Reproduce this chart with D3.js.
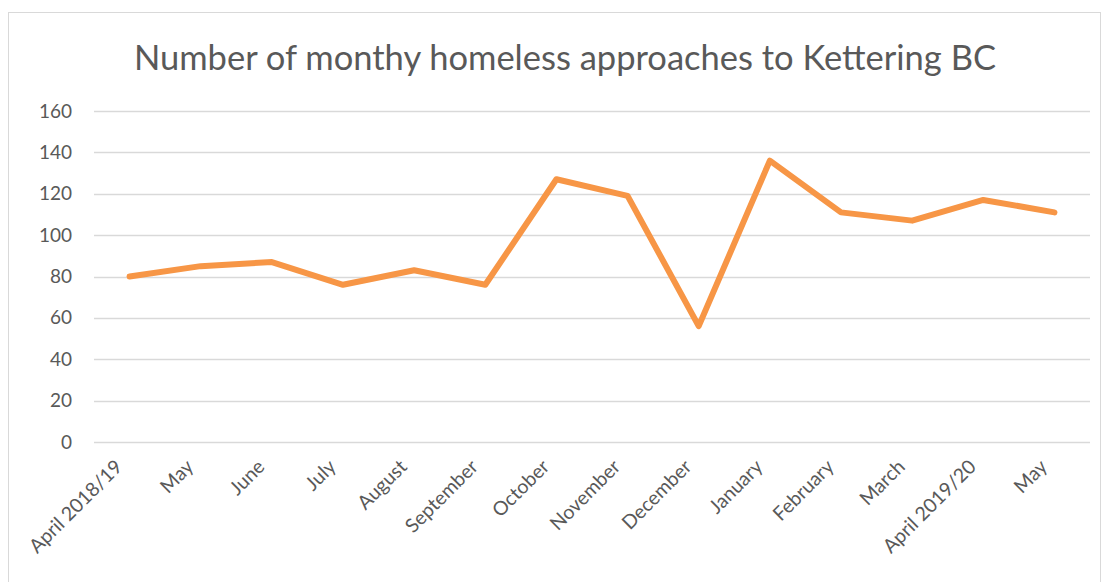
<!DOCTYPE html>
<html>
<head>
<meta charset="utf-8">
<script src="https://cdn.jsdelivr.net/npm/d3@7"></script>
<style>
  body { margin: 0; background: #fff; }
  svg { display: block; font-family: Lato, "Open Sans", sans-serif; }
</style>
</head>
<body>
<div id="chart"></div>
<script>
const months = ['April 2018/19', 'May', 'June', 'July', 'August', 'September', 'October',
  'November', 'December', 'January', 'February', 'March', 'April 2019/20', 'May '];
const approaches = [80, 85, 87, 76, 83, 76, 127, 119, 56, 136, 111, 107, 117, 111];
const yTicks = [0, 20, 40, 60, 80, 100, 120, 140, 160];

const W = 1105, H = 582;
const space = { top: 111, right: 15, bottom: 140, left: 94 };
const w = W - space.left - space.right,
  h = 442 - space.top;

const root = d3.select('#chart')
  .append('svg')
  .attr('width', W)
  .attr('height', H);

// chart border
root.append('rect')
  .attr('x', 8.5)
  .attr('y', 12.5)
  .attr('width', 1092)
  .attr('height', 600)
  .attr('fill', 'none')
  .attr('stroke', '#d9d9d9');

const svg = root.append('g')
  .attr('transform', `translate(${space.left}, ${space.top})`);

// title
root.append('text')
  .attr('x', 565)
  .attr('y', 70)
  .attr('text-anchor', 'middle')
  .style('font-size', '34.5px')
  .style('fill', '#595959')
  .text('Number of monthy homeless approaches to Kettering BC');

const xScale = d3.scaleBand()
  .domain(months)
  .range([0, w]);

const yScale = d3.scaleLinear()
  .domain([0, 160])
  .range([h, 0]);

// grid lines
svg.append('g')
  .selectAll('line')
  .data(yTicks)
  .enter()
  .append('line')
  .attr('x1', 0)
  .attr('x2', w)
  .attr('y1', d => Math.round(yScale(d)) + 0.5)
  .attr('y2', d => Math.round(yScale(d)) + 0.5)
  .attr('stroke', '#d9d9d9')
  .attr('stroke-width', 1.5);

// y axis
const yAxis = d3.axisLeft(yScale).tickValues(yTicks).tickSize(0).tickPadding(22);
svg.append('g')
  .attr('id', 'y-axis')
  .call(yAxis)
  .call(g => g.select('.domain').remove())
  .selectAll('text')
  .style('font-size', '19px')
  .style('font-family', 'Lato, "Open Sans", sans-serif')
  .style('fill', '#595959');

// x axis
const xAxis = d3.axisBottom(xScale).tickSize(0).tickPadding(0);
svg.append('g')
  .attr('id', 'x-axis')
  .attr('transform', `translate(0, ${h})`)
  .call(xAxis)
  .call(g => g.select('.domain').remove())
  .selectAll('text')
  .attr('text-anchor', 'end')
  .attr('dy', '0')
  .attr('transform', 'translate(-6, 26) rotate(-45)')
  .text(d => d.trim())
  .style('font-size', '19.5px')
  .style('font-family', 'Lato, "Open Sans", sans-serif')
  .style('fill', '#595959');

// line
const line = d3.line()
  .x((d, i) => xScale(months[i]) + xScale.bandwidth() / 2)
  .y(d => yScale(d));

svg.append('path')
  .datum(approaches)
  .attr('d', line)
  .attr('fill', 'none')
  .attr('stroke', '#f79646')
  .attr('stroke-width', 6)
  .attr('stroke-linejoin', 'round')
  .attr('stroke-linecap', 'round');
</script>
</body>
</html>
